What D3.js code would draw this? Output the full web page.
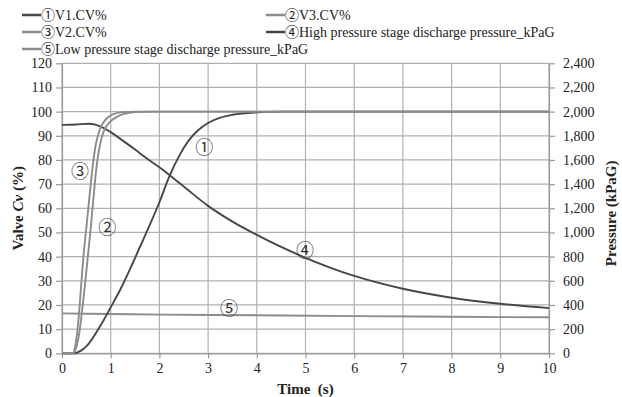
<!DOCTYPE html>
<html><head><meta charset="utf-8">
<script src="https://cdn.jsdelivr.net/npm/d3@7"></script>
<style>
body{margin:0;background:#fff;}
svg{display:block;}
</style></head>
<body><svg id="c" width="622" height="397"></svg>
<script>
// ---- data ----
const v1Time = [0,0.23,0.4,0.55,0.7,0.85,1.0,1.2,1.4,1.6,1.8,2.0,2.2,2.4,2.6,2.8,3.0,3.25,3.5,4,4.5,10];
const v1Cv   = [0,0,1.2,4,8.5,13.5,19,26.5,35,44,53,62.5,73,81.5,88,92.4,95.3,97.5,98.7,99.7,100,100];
const v3Time = [0,0.24,0.3,0.36,0.42,0.48,0.54,0.6,0.65,0.7,0.75,0.8,0.85,0.95,1.06,1.2,1.35,1.6,2,10];
const v3Cv   = [0,0,3,9,19,30,42,54,65,75.5,83,88,91.5,95,97,98.6,99.4,99.9,100,100];
const v2Time = [0,0.23,0.28,0.32,0.36,0.40,0.44,0.49,0.54,0.59,0.64,0.69,0.75,0.82,0.9,1.0,1.1,1.25,1.5,10];
const v2Cv   = [0,0,4,10,19,30,40,50,60,70,79,86,91,94.5,96.8,98.4,99.3,99.8,100,100];
const hpTime = [0,0.3,0.55,0.7,0.85,1.0,1.25,1.5,1.75,2.0,2.5,3.0,3.5,4,4.5,5,6,7,8,9,10];
const hpKPa  = [1890,1894,1900,1890,1866,1830,1760,1686,1610,1540,1380,1220,1090,980,880,790,640,534,460,410,374];
const lpTime = [0,1,2,4,6,8,10];
const lpKPa  = [330,325,320,315,308,302,298];
const xTicks = [0,1,2,3,4,5,6,7,8,9,10];
const leftTicks = [0,10,20,30,40,50,60,70,80,90,100,110,120];
const rightTicks = [0,200,400,600,800,1000,1200,1400,1600,1800,2000,2200,2400];
const legendLabels = ["①V1.CV%","②V3.CV%","③V2.CV%","④High pressure stage discharge pressure_kPaG","⑤Low pressure stage discharge pressure_kPaG"];
const markLabels = ["①","②","③","④","⑤"];
const markTime = [2.92,0.93,0.37,4.99,3.43];
const markCv   = [85.8,52.7,75.8,43.2,19.1];

// ---- layout ----
const SERIF = "'Liberation Serif','Times New Roman','Noto Sans CJK JP',serif";
const svg = d3.select("#c");
const L=62, R=549, T=63.3, B=353.3;
const x = d3.scaleLinear().domain([0,10]).range([L,R]);
const yL = d3.scaleLinear().domain([0,120]).range([B,T]);
const yR = d3.scaleLinear().domain([0,2400]).range([B,T]);
const dark="#474747", light="#8c8c8c", grid="#b0b0b0";

// grid
const g = svg.append("g");
g.selectAll(".hg").data(leftTicks).join("line")
 .attr("x1",L).attr("x2",R).attr("y1",d=>yL(d)).attr("y2",d=>yL(d))
 .attr("stroke",grid).attr("stroke-width",1.2);
g.selectAll(".vg").data(xTicks).join("line")
 .attr("y1",T).attr("y2",B).attr("x1",d=>x(d)).attr("x2",d=>x(d))
 .attr("stroke",grid).attr("stroke-width",1.2);

// axes
const axStyle = sel => {
  sel.attr("font-family",null).attr("font-size",null);
  sel.selectAll("path,line").attr("stroke","#999").attr("stroke-width",1.2);
  sel.selectAll("text").style("font-size","14px").style("fill","#222")
     .style("font-family",SERIF);
};
svg.append("g").attr("transform",`translate(0,${B})`)
  .call(d3.axisBottom(x).tickValues(xTicks).tickSize(5).tickSizeOuter(0).tickPadding(5).tickFormat(d3.format("d")))
  .call(axStyle);
svg.append("g").attr("transform",`translate(${L},0)`)
  .call(d3.axisLeft(yL).tickValues(leftTicks).tickSize(6).tickSizeOuter(0).tickPadding(4).tickFormat(d3.format("d")))
  .call(axStyle);
svg.append("g").attr("transform",`translate(${R},0)`)
  .call(d3.axisRight(yR).tickValues(rightTicks).tickSize(6).tickSizeOuter(0).tickPadding(8).tickFormat(d3.format(",")))
  .call(axStyle);

// lines
const lineL = d3.line().x(d=>x(d[0])).y(d=>yL(d[1])).curve(d3.curveMonotoneX);
const lineR = d3.line().x(d=>x(d[0])).y(d=>yR(d[1])).curve(d3.curveMonotoneX);
const zip = (a,b)=>a.map((t,i)=>[t,b[i]]);
const series = [
  {d:zip(lpTime,lpKPa), f:lineR, c:light},
  {d:zip(hpTime,hpKPa), f:lineR, c:dark},
  {d:zip(v1Time,v1Cv), f:lineL, c:dark},
  {d:zip(v3Time,v3Cv), f:lineL, c:light},
  {d:zip(v2Time,v2Cv), f:lineL, c:light},
];
series.forEach(s=>{
  svg.append("path").attr("d",s.f(s.d)).attr("fill","none")
    .attr("stroke",s.c).attr("stroke-width",1.9);
});

// circled labels
svg.selectAll(".ml").data(markLabels).join("text")
  .attr("x",(d,i)=>x(markTime[i])).attr("y",(d,i)=>yL(markCv[i]))
  .attr("text-anchor","middle").attr("dominant-baseline","central")
  .style("font-family","'Noto Sans CJK JP',sans-serif").style("font-size","18px").style("fill","#333")
  .text(d=>d);

// legend
const legCols=[22,266], legRows=[15,32,49];
const legPos=[[0,0],[1,0],[0,1],[1,1],[0,2]];
const legColors=[dark,light,light,dark,light];
legendLabels.forEach((lab,i)=>{
  const [c,r]=legPos[i];
  const lx=legCols[c], ly=legRows[r];
  svg.append("line").attr("x1",lx).attr("x2",lx+19).attr("y1",ly).attr("y2",ly)
    .attr("stroke",legColors[i]).attr("stroke-width",2.5);
  svg.append("text").attr("x",lx+19).attr("y",ly).attr("dominant-baseline","central")
    .style("font-size","14px").style("fill","#222").style("font-family",SERIF).text(lab);
});

// axis titles
const titleStyle = t => t.attr("text-anchor","middle").attr("dominant-baseline","central")
  .style("font-size","15px").style("font-weight","bold").style("fill","#222").style("font-family",SERIF);
svg.append("text").attr("transform",`translate(18,${(T+B)/2}) rotate(-90)`)
  .call(titleStyle)
  .call(t=>{t.append("tspan").text("Valve ");t.append("tspan").style("font-style","italic").text("Cv");t.append("tspan").text(" (%)");});
svg.append("text").attr("transform",`translate(611,${(T+B)/2+5}) rotate(-90)`)
  .call(titleStyle).text("Pressure (kPaG)");
svg.append("text").attr("x",(L+R)/2).attr("y",389)
  .call(titleStyle).text("Time\u00a0\u00a0(s)");
</script></body></html>
